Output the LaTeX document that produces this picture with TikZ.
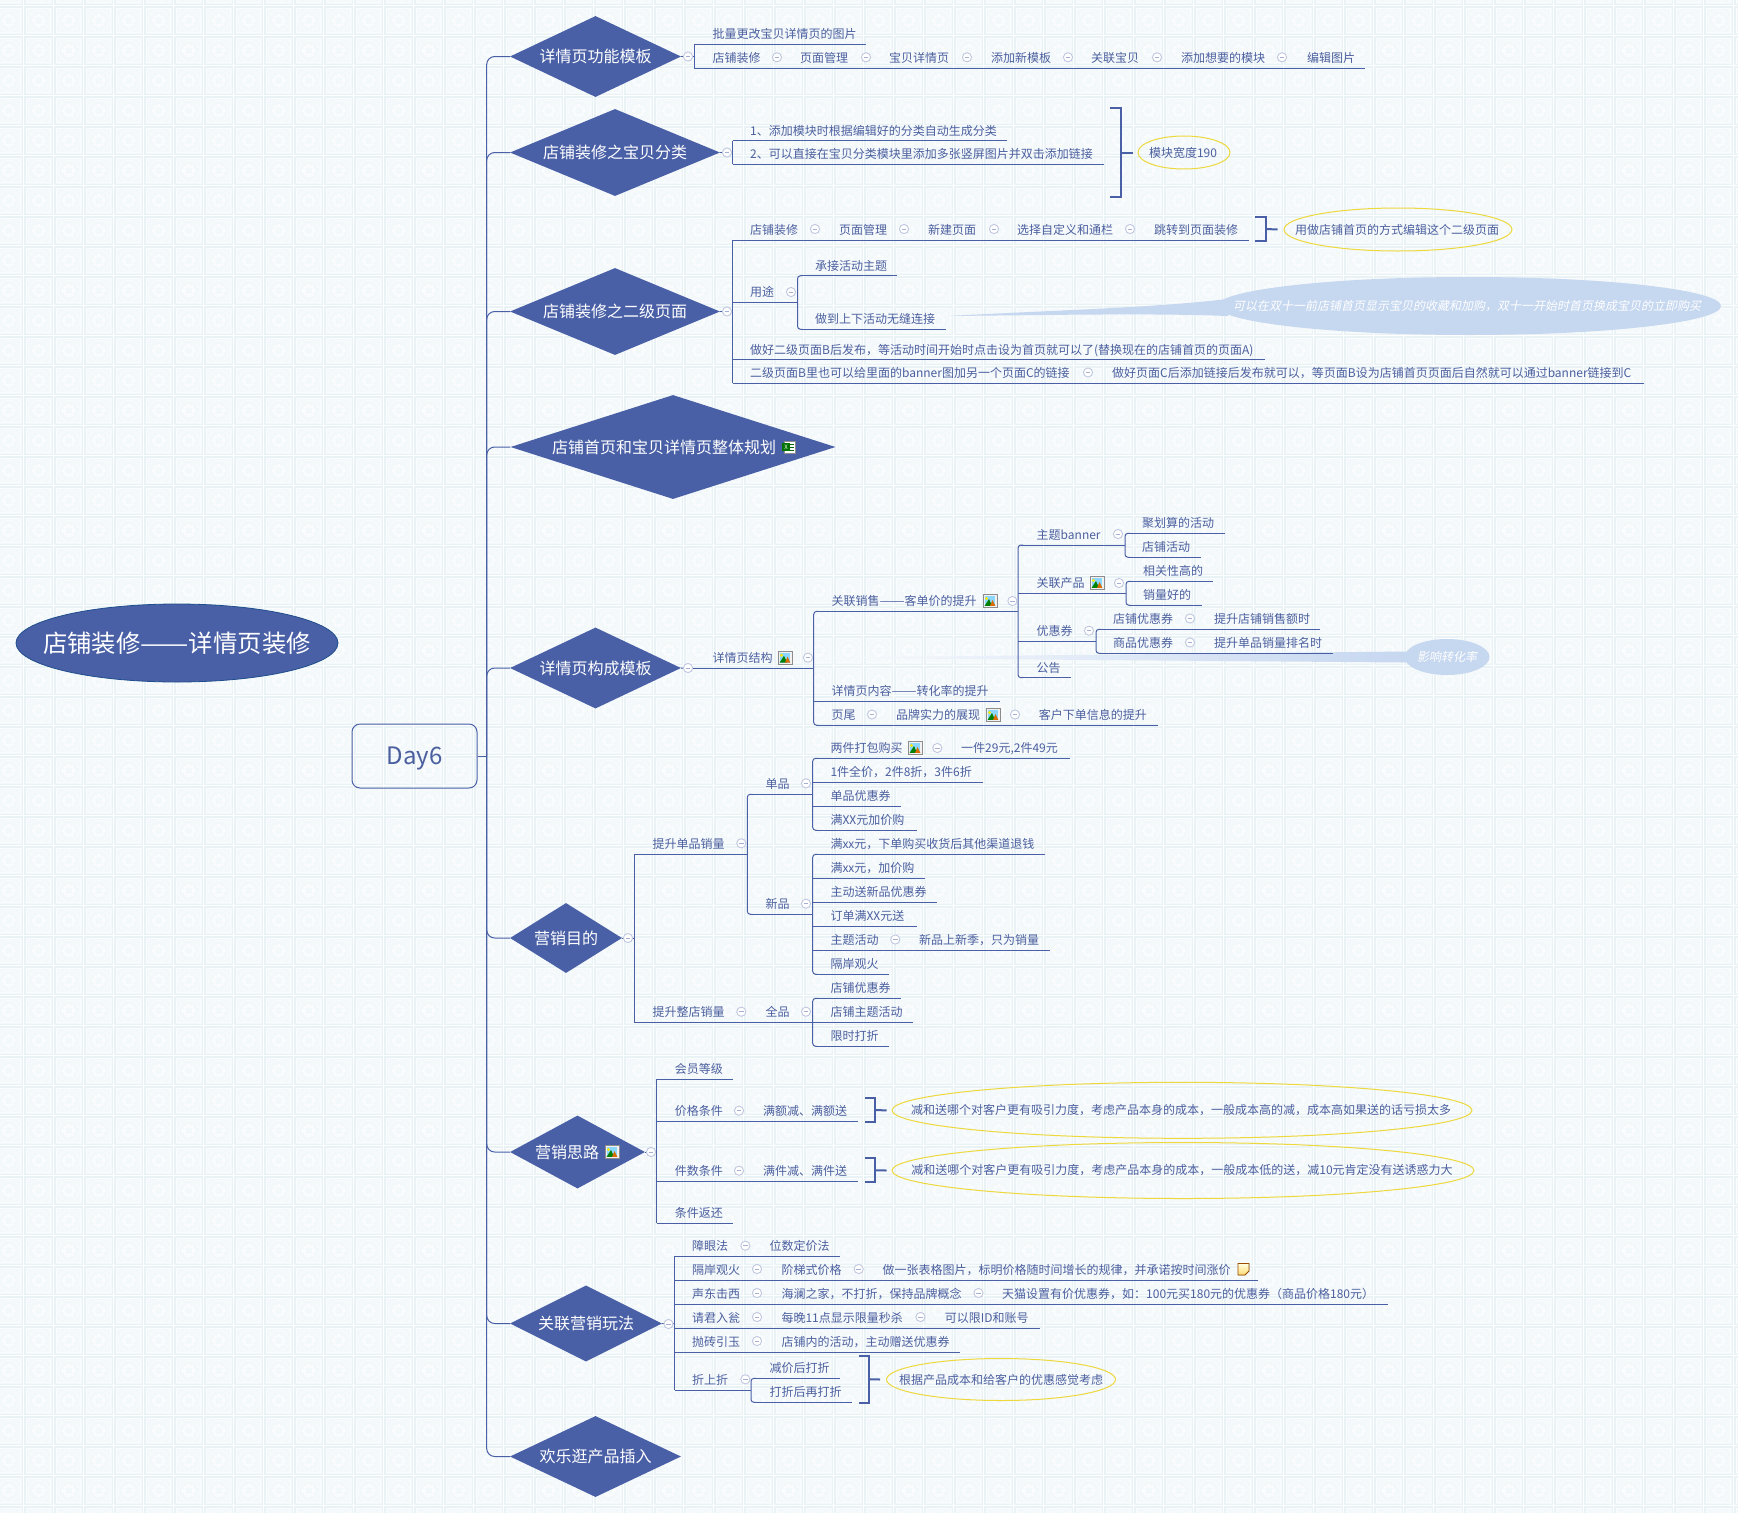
\documentclass[tikz,border=0pt]{standalone}
\usepackage{fontspec}
\setmainfont{Noto Sans CJK SC}
\newfontfamily\cjkslant[FakeSlant=0.2]{Noto Sans CJK SC}
\usetikzlibrary{shapes.geometric,calc,patterns}
\definecolor{mapblue}{HTML}{4A60A6}
\definecolor{mapedge}{HTML}{1F4E8C}
\definecolor{maptext}{HTML}{4B5F9F}
\definecolor{calloutblue}{HTML}{C6D7F0}
\definecolor{noteyellow}{HTML}{EDD83D}
\definecolor{tilebase}{HTML}{F3F8FA}
\definecolor{tileedge}{HTML}{E9F2F5}
\definecolor{tilelight}{HTML}{FAFCFD}
\pgfdeclarepatterninherentlycolored{wallpaper}{\pgfqpoint{23.75pt}{7.25pt}}{\pgfqpoint{53.75pt}{37.25pt}}{\pgfqpoint{30pt}{30pt}}{%
  \pgftransformshift{\pgfqpoint{23.75pt}{7.25pt}}%
  \pgfsetfillcolor{white}%
  \pgfpathrectangle{\pgfpointorigin}{\pgfqpoint{30pt}{30pt}}\pgfusepath{fill}%
  \pgfsetfillcolor{tilebase}\pgfsetstrokecolor{tileedge}\pgfsetlinewidth{1.5pt}%
  \pgfpathrectangle{\pgfqpoint{1.25pt}{1.25pt}}{\pgfqpoint{27.5pt}{27.5pt}}\pgfusepath{fill,stroke}%
  \pgfsetstrokecolor{tilelight}\pgfsetlinewidth{0.8pt}%
  \pgfpathrectangle{\pgfqpoint{3pt}{3pt}}{\pgfqpoint{24pt}{24pt}}\pgfusepath{stroke}%
  \pgfpathcircle{\pgfqpoint{15pt}{15pt}}{10.5pt}\pgfusepath{stroke}%
  \pgfsetfillcolor{tilelight}%
  \pgfpathcircle{\pgfqpoint{10pt}{15pt}}{2pt}\pgfpathcircle{\pgfqpoint{20pt}{15pt}}{2pt}%
  \pgfpathcircle{\pgfqpoint{15pt}{10pt}}{2pt}\pgfpathcircle{\pgfqpoint{15pt}{20pt}}{2pt}%
  \pgfpathcircle{\pgfqpoint{11.5pt}{11.5pt}}{1.8pt}\pgfpathcircle{\pgfqpoint{18.5pt}{11.5pt}}{1.8pt}%
  \pgfpathcircle{\pgfqpoint{11.5pt}{18.5pt}}{1.8pt}\pgfpathcircle{\pgfqpoint{18.5pt}{18.5pt}}{1.8pt}%
  \pgfpathcircle{\pgfqpoint{5.2pt}{5.2pt}}{0.9pt}\pgfpathcircle{\pgfqpoint{24.8pt}{5.2pt}}{0.9pt}%
  \pgfpathcircle{\pgfqpoint{5.2pt}{24.8pt}}{0.9pt}\pgfpathcircle{\pgfqpoint{24.8pt}{24.8pt}}{0.9pt}\pgfusepath{fill}%
}
\tikzset{
  conn/.style={draw=mapblue,line width=1pt},
  brk/.style={draw=mapblue,line width=2pt},
  txt/.style={text=maptext,font=\fontsize{12}{14}\selectfont,inner sep=0pt,anchor=base west},
  dia/.style={diamond,fill=mapblue,text=white,font=\fontsize{16}{18}\selectfont,inner sep=0pt,aspect=#1},
  dia/.default=2.11,
  oval/.style={ellipse,draw=noteyellow,line width=1pt,inner sep=0pt},
  ovaltxt/.style={text=maptext,font=\fontsize{12}{14}\selectfont,inner sep=0pt},
  cloud2/.style={ellipse,fill=calloutblue,inner sep=0pt},
  cloudtxt/.style={text=white,font=\fontsize{12}{14}\selectfont\cjkslant,inner sep=0pt},
}
\newcommand{\wdash}{\scalebox{1.25}[1]{——}}
\newcommand{\rdash}{\scalebox{1.18}[1]{——}}
% name, line start, line end, line y, text x, text
\newcommand{\topic}[6]{%
  \node[txt] (#1) at (#5,#4-5.5) {#6};
  \coordinate (#1-a) at (#2,#4);
  \coordinate (#1-b) at (#3,#4);
  \draw[conn] (#1-a) -- (#1-b);}
% same, for the first or last child on a rounded trunk
\newcommand{\topicE}[6]{%
  \node[txt] (#1) at (#5,#4-5.5) {#6};
  \coordinate (#1-a) at (#2,#4);
  \coordinate (#1-b) at (#3,#4);
  \draw[conn] ([xshift=3pt]#1-a) -- (#1-b);}
\newcommand{\chain}[4]{\node[txt] (#1) at (#2,#3-5.5) {#4};}
\newcommand{\vtS}[2]{\draw[conn] (#1-a) -- (#2-a);}
\newcommand{\vtR}[2]{\draw[conn,rounded corners=3pt] ([xshift=5pt]#1-a) -- (#1-a) -- (#2-a) -- ([xshift=5pt]#2-a);}
\newcommand{\mn}[2]{%
  \fill[fill=white,draw=mapblue!35,line width=0.9pt] (#1,#2) circle (4.6pt);
  \draw[mapblue!50,line width=0.8pt] (#1-2.4,#2) -- (#1+2.4,#2);}
\newcommand{\picon}[2]{%
  \fill[fill=black!5,draw=black!45,line width=0.8pt] (#1-7,#2-6.5) rectangle (#1+7,#2+6.5);
  \fill[blue!35!cyan!45] (#1-5.3,#2-4.8) rectangle (#1+5.3,#2+4.8);
  \fill[green!50!black] (#1-5.3,#2+4.8) -- (#1-1,#2-2) -- (#1+2,#2+4.8) -- cycle;
  \fill[orange!85!black] (#1,#2+4.8) -- (#1+2.5,#2-1) -- (#1+5.3,#2+4.8) -- cycle;
  \fill[yellow!90!orange] (#1-3.5,#2-2.5) circle (1.6pt);}
% name, x1, x2, y top, y bottom
\newcommand{\bracket}[5]{%
  \coordinate (#1) at (#3,{(#4+#5)/2});
  \draw[brk] (#2,#4) -- (#3,#4) -- (#3,#5) -- (#2,#5);}
\begin{document}
\begin{tikzpicture}[x=1pt,y=-1pt]
\useasboundingbox (0,0) rectangle (1738,1513);
\fill[pattern=wallpaper] (0,0) rectangle (1738,1513);

% callouts go under the lines
\node[cloud2,minimum width=504pt,minimum height=58pt] (c1) at (1469,306) {};
\coordinate (c1tip) at (948,316);
\fill[calloutblue] (c1tip) .. controls (1060,310) and (1150,308) .. (1228,299) -- (1228,316) .. controls (1150,313) and (1060,315) .. (c1tip) -- cycle;
\node[cloud2,minimum width=85pt,minimum height=36pt] (c2) at (1447,657) {};
\coordinate (c2tip) at (812,657.7);
\shade[left color=calloutblue!10,right color=calloutblue] (c2tip) -- ($(c2.west)+(2,-5.5)$) -- ($(c2.west)+(2,5.5)$) -- cycle;

% root and central box
\node[ellipse,fill=mapblue,draw=mapedge,line width=0.8pt,inner sep=0pt,minimum width=322pt,minimum height=78pt] (root) at (177,643) {};
\node[text=white,font=\fontsize{24.4}{28}\selectfont,inner sep=0pt] (roott) at (root.center) {店铺装修\rdash 详情页装修};
\node[draw=mapblue,rounded corners=8pt,line width=1pt,minimum width=125pt,minimum height=64pt,inner sep=0pt] (day) at (414.5,756) {};
\node[text=maptext,font=\fontsize{24}{28}\selectfont,inner sep=0pt] (dayt) at ([yshift=-3pt]day.center) {Day6};
\coordinate (tk) at (486.7,756);

% diamonds
\node[dia,minimum width=171pt,minimum height=81pt] (d1) at (595.5,56.5) {详情页功能模板};
\node[dia,minimum width=210pt,minimum height=87pt] (d2) at (615,152.5) {店铺装修之宝贝分类};
\node[dia,minimum width=210pt,minimum height=87pt] (d3) at (615,311.5) {店铺装修之二级页面};
\node[dia=3.1,minimum width=325pt,minimum height=104pt] (d4) at (673,447) {店铺首页和宝贝详情页整体规划\hspace*{18pt}};
\node[dia,minimum width=171pt,minimum height=81pt] (d5) at (595.5,668) {详情页构成模板};
\node[dia=1.6,minimum width=112pt,minimum height=70pt] (d6) at (566,938) {营销目的};
\node[dia=1.6,minimum width=135pt,minimum height=73pt] (d7) at (577.5,1152) {营销思路\hspace*{21pt}};
\node[dia=1.8,minimum width=152pt,minimum height=76pt] (d8) at (586,1323.5) {关联营销玩法};
\node[dia,minimum width=171pt,minimum height=81pt] (d9) at (595.5,1456.5) {欢乐逛产品插入};

% trunk
\draw[conn] (day.east) -- (tk);
\foreach \d in {d1,d2,d3,d4,d5,d6,d7,d8,d9}{\draw[conn,rounded corners=8pt] (\d.west) -| (tk);}

% --- d1
\topic{a1}{694}{866}{44}{712.5}{批量更改宝贝详情页的图片}
\topic{a2}{694}{1365}{68.3}{712.5}{店铺装修}
\chain{a3}{800}{68.3}{页面管理}
\chain{a4}{889}{68.3}{宝贝详情页}
\chain{a5}{991}{68.3}{添加新模板}
\chain{a6}{1091}{68.3}{关联宝贝}
\chain{a7}{1181}{68.3}{添加想要的模块}
\chain{a8}{1307}{68.3}{编辑图片}
\vtS{a1}{a2}
\draw[conn] (d1.east) -- (d1.east -| a1-a);
\mn{688}{56.5}\mn{777}{57.3}\mn{866}{57.3}\mn{967}{57.3}\mn{1068}{57.3}\mn{1157}{57.3}\mn{1282}{57.3}

% --- d2
\topic{b1}{732.6}{1007}{140.5}{750}{1、添加模块时根据编辑好的分类自动生成分类}
\topic{b2}{732.6}{1104}{164}{750}{2、可以直接在宝贝分类模块里添加多张竖屏图片并双击添加链接}
\vtS{b1}{b2}
\draw[conn] (d2.east) -- (d2.east -| b1-a);
\mn{727}{152.5}
\bracket{bb}{1110}{1121}{108}{197}
\node[oval,minimum width=92pt,minimum height=33pt] (be) at (1184,152.5) {};
\node[ovaltxt] (bet) at ([xshift=-1pt]be.center) {模块宽度190};
\draw[brk] (bb) -- ([xshift=-5pt]be.west);

% --- d3
\topic{c3a}{732.6}{1249}{240}{750}{店铺装修}
\chain{c3b}{839}{240}{页面管理}
\chain{c3c}{928}{240}{新建页面}
\chain{c3d}{1017}{240}{选择自定义和通栏}
\chain{c3e}{1154}{240}{跳转到页面装修}
\mn{815}{229}\mn{904}{229}\mn{994}{229}\mn{1130}{229}
\bracket{cb}{1255}{1266}{217}{241}
\node[oval,minimum width=228pt,minimum height=43pt] (ce) at (1398,229.5) {};
\node[ovaltxt] (cet) at ([xshift=-1pt]ce.center) {用做店铺首页的方式编辑这个二级页面};
\draw[brk] (cb) -- ([xshift=-6pt]ce.west);
\topic{c3f}{732.6}{797.5}{302}{750}{用途}
\topicE{c3g}{797.5}{897}{275.7}{815}{承接活动主题}
\topicE{c3h}{797.5}{945.6}{329.3}{815}{做到上下活动无缝连接}
\vtR{c3g}{c3h}
\mn{791}{292}
\topic{c3i}{732.6}{1265}{359.7}{750}{做好二级页面B后发布，等活动时间开始时点击设为首页就可以了(替换现在的店铺首页的页面A)}
\topic{c3j}{732.6}{1644}{383.3}{750}{二级页面B里也可以给里面的banner图加另一个页面C的链接}
\chain{c3k}{1112}{383.3}{做好页面C后添加链接后发布就可以，等页面B设为店铺首页页面后自然就可以通过banner链接到C}
\mn{1088}{372.5}
\vtS{c3a}{c3j}
\draw[conn] (d3.east) -- (d3.east -| c3a-a);
\mn{727}{311.5}
\node[cloudtxt] (c1t) at ([xshift=-2pt]c1.center) {可以在双十一前店铺首页显示宝贝的收藏和加购，双十一开始时首页换成宝贝的立即购买};

% --- d4 icon
\fill[fill=white,draw=black!45,line width=0.7pt] (784,441) rectangle (795,453);
\draw[green!40!black,line width=0.6pt] (790,444) -- (794,444) (790,447) -- (794,447) (790,450) -- (794,450);
\fill[green!45!black] (782,443) rectangle (790,451);
\node[text=white,font=\fontsize{6}{6}\selectfont,inner sep=0pt] (xl) at (786,447) {X};

% --- d5
\topic{e0}{692}{813.7}{668.3}{712.5}{详情页结构}
\draw[conn] (d5.east) -- (e0-a);
\topicE{e1}{813.7}{1018}{611.3}{831.4}{关联销售\wdash 客单价的提升}
\topicE{e2}{1018}{1125}{545}{1036.5}{主题banner}
\topicE{e21}{1125}{1224.5}{533.3}{1142}{聚划算的活动}
\topicE{e22}{1125}{1201}{557.3}{1142}{店铺活动}
\vtR{e21}{e22}
\topic{e3}{1018}{1126}{593.3}{1036.5}{关联产品}
\topicE{e31}{1126}{1213}{581.3}{1143}{相关性高的}
\topicE{e32}{1126}{1202}{605.3}{1143}{销量好的}
\vtR{e31}{e32}
\topic{e4}{1018}{1096}{641.3}{1036.5}{优惠券}
\topicE{e41}{1096}{1320.4}{629.3}{1113}{店铺优惠券}
\chain{e41b}{1214}{629.3}{提升店铺销售额时}
\topicE{e42}{1096}{1332.7}{653.3}{1113}{商品优惠券}
\chain{e42b}{1214}{653.3}{提升单品销量排名时}
\vtR{e41}{e42}
\topicE{e5}{1018}{1071}{677.7}{1036.5}{公告}
\vtR{e2}{e5}
\topic{e6}{813.7}{1000}{701.3}{831.4}{详情页内容\wdash 转化率的提升}
\topicE{e7}{813.7}{1158}{725.3}{831.4}{页尾}
\chain{e7b}{896}{725.3}{品牌实力的展现}
\chain{e7c}{1038.7}{725.3}{客户下单信息的提升}
\vtR{e1}{e7}
\mn{688}{668}\mn{808}{657.7}\mn{1012.4}{601}\mn{1118}{534}\mn{1119}{583}\mn{1089}{630.7}
\mn{1190}{618.5}\mn{1190}{642.5}\mn{872}{714.5}\mn{1015}{714.5}
\picon{785}{657.7}\picon{990}{601}\picon{1097}{583}\picon{993}{715}
\node[cloudtxt] (c2t) at (c2.center) {影响转化率};

% --- d6
\topic{f1}{634.3}{747.3}{854.3}{652.3}{提升单品销量}
\topicE{f2}{747.3}{812.7}{794.3}{765.3}{单品}
\topicE{f21}{812.7}{1070}{758.3}{830.3}{两件打包购买}
\chain{f21b}{961}{758.3}{一件29元,2件49元}
\topic{f22}{812.7}{983.3}{782.3}{830.3}{1件全价，2件8折，3件6折}
\topic{f23}{812.7}{900.7}{806.3}{830.3}{单品优惠券}
\topicE{f24}{812.7}{916.7}{830.3}{830.3}{满XX元加价购}
\vtR{f21}{f24}
\topicE{f3}{747.3}{812.7}{914.3}{765.3}{新品}
\vtR{f2}{f3}
\topicE{f31}{812.7}{1044.7}{854.3}{830.3}{满xx元，下单购买收货后其他渠道退钱}
\topic{f32}{812.7}{925}{878.3}{830.3}{满xx元，加价购}
\topic{f33}{812.7}{936.7}{902.3}{830.3}{主动送新品优惠券}
\topic{f34}{812.7}{916.7}{926.3}{830.3}{订单满XX元送}
\topic{f35}{812.7}{1049.7}{950.3}{830.3}{主题活动}
\chain{f35b}{919}{950.3}{新品上新季，只为销量}
\topicE{f36}{812.7}{888.7}{974.3}{830.3}{隔岸观火}
\vtR{f31}{f36}
\topic{f4}{634.3}{812.7}{1022.3}{652.3}{提升整店销量}
\chain{f4b}{765.3}{1022.3}{全品}
\topicE{f41}{812.7}{900.7}{998.3}{830.3}{店铺优惠券}
\topic{f42}{812.7}{912.7}{1022.3}{830.3}{店铺主题活动}
\topicE{f43}{812.7}{888.7}{1046.3}{830.3}{限时打折}
\vtR{f41}{f43}
\vtS{f1}{f4}
\draw[conn] (d6.east) -- (d6.east -| f1-a);
\mn{628}{938}\mn{741.3}{843.3}\mn{806}{783.3}\mn{937.3}{748}\mn{806}{903.7}\mn{895.3}{939.5}\mn{741.3}{1011.7}\mn{806}{1011.7}
\picon{915}{748}

% --- d7
\topic{g1}{656.5}{733}{1079.3}{674.6}{会员等级}
\topic{g2}{656.5}{857.8}{1121}{674.6}{价格条件}
\chain{g2b}{763}{1121}{满额减、满额送}
\topic{g3}{656.5}{857.8}{1181.3}{674.6}{件数条件}
\chain{g3b}{763}{1181.3}{满件减、满件送}
\topic{g4}{656.5}{733}{1223.3}{674.6}{条件返还}
\vtS{g1}{g4}
\draw[conn] (d7.east) -- (d7.east -| g1-a);
\mn{651}{1152}\mn{739}{1110.7}\mn{739}{1170.7}
\picon{612}{1152}
\bracket{gb1}{865}{875}{1098.3}{1122}
\node[oval,minimum width=580pt,minimum height=56pt] (ge1) at (1182,1110.3) {};
\node[ovaltxt] (ge1t) at ([xshift=-1pt]ge1.center) {减和送哪个对客户更有吸引力度，考虑产品本身的成本，一般成本高的减，成本高如果送的话亏损太多};
\draw[brk] (gb1) -- ([xshift=-5pt]ge1.west);
\bracket{gb2}{865}{875}{1158.3}{1182.3}
\node[oval,minimum width=582pt,minimum height=56pt] (ge2) at (1183,1170.5) {};
\node[ovaltxt] (ge2t) at ([xshift=-1pt]ge2.center) {减和送哪个对客户更有吸引力度，考虑产品本身的成本，一般成本低的送，减10元肯定没有送诱惑力大};
\draw[brk] (gb2) -- ([xshift=-5pt]ge2.west);

% --- d8
\topic{h1}{674.6}{839.8}{1256.3}{692}{障眼法}
\chain{h1b}{769.5}{1256.3}{位数定价法}
\topic{h2}{674.6}{1258.4}{1280.3}{692}{隔岸观火}
\chain{h2b}{781.3}{1280.3}{阶梯式价格}
\chain{h2c}{882.3}{1280.3}{做一张表格图片，标明价格随时间增长的规律，并承诺按时间涨价}
\topic{h3}{674.6}{1388}{1304.3}{692}{声东击西}
\chain{h3b}{781.3}{1304.3}{海澜之家，不打折，保持品牌概念}
\chain{h3c}{1002}{1304.3}{天猫设置有价优惠券，如：100元买180元的优惠券（商品价格180元）}
\topic{h4}{674.6}{1040}{1328.3}{692}{请君入瓮}
\chain{h4b}{781.3}{1328.3}{每晚11点显示限量秒杀}
\chain{h4c}{944.6}{1328.3}{可以限ID和账号}
\topic{h5}{674.6}{960}{1352.3}{692}{抛砖引玉}
\chain{h5b}{781.3}{1352.3}{店铺内的活动，主动赠送优惠券}
\topic{h6}{674.6}{751}{1390.3}{692}{折上折}
\topicE{h61}{751}{839.8}{1378.3}{769.5}{减价后打折}
\topicE{h62}{751}{852}{1402.3}{769.5}{打折后再打折}
\vtR{h61}{h62}
\vtS{h1}{h6}
\draw[conn] (d8.east) -- (d8.east -| h1-a);
\mn{668.5}{1324}\mn{745.4}{1245.7}\mn{757}{1269}\mn{858.7}{1269}\mn{757}{1293}\mn{978.5}{1293}\mn{757}{1317}\mn{920.5}{1317}\mn{757}{1341}\mn{745.4}{1379.3}
\fill[top color=yellow!12,bottom color=yellow!45!orange!55,draw=orange!60!black,line width=0.8pt] (1238,1263.5) -- (1249,1263.5) -- (1249,1271) -- (1245,1275) -- (1238,1275) -- cycle;
\bracket{hb}{858.7}{869}{1355.7}{1402.7}
\node[oval,minimum width=229pt,minimum height=42pt] (he) at (1001,1379.5) {};
\node[ovaltxt] (het) at (he.center) {根据产品成本和给客户的优惠感觉考虑};
\draw[brk] (hb) -- ([xshift=-6pt]he.west);
\end{tikzpicture}
\end{document}
